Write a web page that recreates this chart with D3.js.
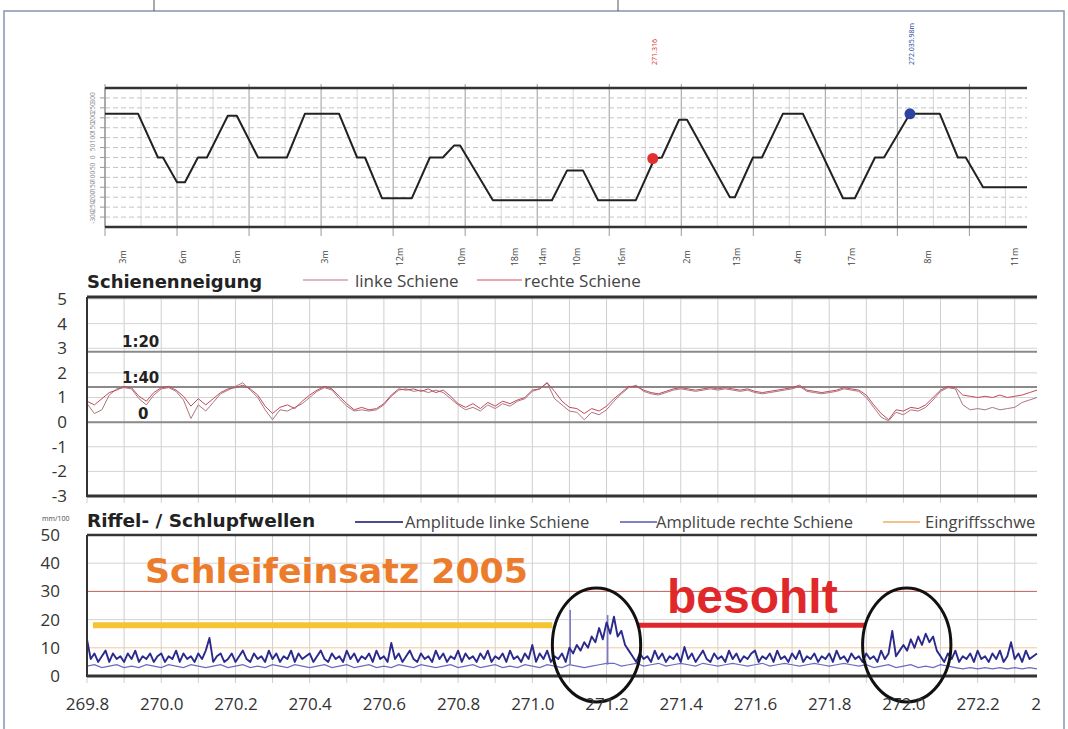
<!DOCTYPE html>
<html><head><meta charset="utf-8">
<script src="https://cdn.jsdelivr.net/npm/d3@7"></script>
<style>body{margin:0;background:#fff}svg{display:block}</style>
</head><body>
<svg id="c" width="1068" height="729"></svg>
<script>
// ---------------- DATA ----------------
const kmDomain = [269.8, 272.36];

// top panel: track geometry profile (km, value)
const profileKm = [269.800,269.892,269.947,269.961,270.000,270.022,270.058,270.083,270.141,270.166,270.225,270.305,270.355,270.450,270.500,270.522,270.569,270.652,270.702,270.738,270.769,270.786,270.877,271.041,271.083,271.127,271.169,271.274,271.326,271.346,271.394,271.416,271.535,271.549,271.599,271.624,271.682,271.738,271.849,271.882,271.938,271.963,272.035,272.118,272.168,272.190,272.238,272.360];
const profileVal = [4.4,4.4,0,0,-2.5,-2.5,0,0,4.2,4.2,0,0,4.4,4.4,0,0,-4.1,-4.1,0,0,1.2,1.2,-4.3,-4.3,-1.3,-1.3,-4.3,-4.3,-0.1,0,3.8,3.8,-4.0,-4.0,0,0,4.4,4.4,-4.1,-4.1,0,0,4.4,4.4,0,0,-3.0,-3.0];
const topYTicks = [-6,-5,-4,-3,-2,-1,0,1,2,3,4,5,6];
const topYLabels = ["-300","-250","-200","-150","-100","-50","0","50","100","150","200","250","300"];
const topMarkKm = [269.850,270.017,270.166,270.411,270.619,270.791,270.938,271.016,271.110,271.235,271.416,271.555,271.724,271.874,272.085,272.326];
const topMarkLabels = ["3m","6m","5m","3m","12m","10m","18m","14m","10m","16m","2m","13m","4m","17m","8m","11m"];
const markerKm = [271.321, 272.035];
const markerVal = [-0.1, 4.4];
const markerLabels = ["271.316", "272.035.98m"];
const markerColors = ["#e03030", "#2c44a0"];

// middle panel: Schienenneigung, sampled every 0.02 km from 269.80
const neigungStart = 269.80, neigungStep = 0.02;
const neigungLinks = [0.75,0.35,0.5,1.1,1.35,1.4,1.35,0.95,0.7,1.1,
 1.35,1.4,1.25,0.9,0.15,0.7,0.45,0.8,1.15,1.3,
 1.45,1.6,1.3,1.0,0.5,0.1,0.5,0.45,0.6,0.75,
 1.0,1.25,1.4,1.3,0.95,0.65,0.45,0.5,0.45,0.5,
 0.7,1.05,1.3,1.35,1.25,1.3,1.2,1.3,1.2,0.95,
 0.7,0.5,0.6,0.45,0.7,0.55,0.75,0.65,0.85,0.95,
 1.25,1.35,1.6,0.95,0.7,0.45,0.4,0.1,0.4,0.3,
 0.5,0.85,1.15,1.4,1.5,1.25,1.15,1.1,1.2,1.3,
 1.35,1.3,1.25,1.3,1.35,1.3,1.35,1.3,1.25,1.3,
 1.2,1.15,1.2,1.25,1.3,1.35,1.45,1.25,1.2,1.15,
 1.2,1.25,1.35,1.3,1.25,1.0,0.6,0.2,0.05,0.4,
 0.3,0.5,0.45,0.6,0.9,1.25,1.4,1.35,0.7,0.5,
 0.55,0.5,0.6,0.5,0.55,0.6,0.8,0.9,1.0];
const neigungRechts = [0.85,0.7,0.95,1.2,1.3,1.45,1.4,1.05,0.85,1.2,
 1.4,1.45,1.3,1.05,0.65,0.95,0.7,0.95,1.2,1.35,
 1.4,1.5,1.35,1.1,0.65,0.35,0.6,0.7,0.55,0.85,
 1.1,1.3,1.45,1.35,1.05,0.75,0.5,0.6,0.5,0.55,
 0.75,1.1,1.35,1.3,1.35,1.25,1.35,1.2,1.3,1.05,
 0.75,0.6,0.75,0.55,0.8,0.65,0.85,0.75,0.9,1.0,
 1.3,1.35,1.6,1.25,0.85,0.6,0.55,0.35,0.55,0.45,
 0.65,0.95,1.2,1.45,1.45,1.3,1.2,1.15,1.25,1.35,
 1.4,1.35,1.3,1.35,1.4,1.35,1.4,1.35,1.3,1.35,
 1.25,1.2,1.25,1.3,1.35,1.4,1.5,1.3,1.25,1.2,
 1.25,1.3,1.4,1.35,1.3,1.1,0.7,0.35,0.1,0.5,
 0.45,0.6,0.55,0.7,1.0,1.3,1.45,1.4,1.1,1.05,
 1.0,1.05,1.0,1.1,1.0,1.05,1.1,1.2,1.3];
const neigungTicks = [-3,-2,-1,0,1,2,3,4,5];
const refLabels = ["1:20", "1:40", "0"];
const refValues = [2.86, 1.43, 0];

// bottom panel: Riffel amplitudes (mm/100)
const ampLinksStart = 269.80, ampLinksStep = 0.01;
const ampLinks = [13,6,8,5,7,9,5,8,6,7,
 5,8,6,9,5,7,6,8,5,7,
 8,5,7,6,9,5,8,6,7,5,
 8,6,9,13.5,5,7,8,5,6,8,
 5,7,9,6,5,8,6,7,5,9,
 6,8,5,7,6,9,5,8,6,7,
 8,5,7,9,6,5,8,6,7,5,
 9,6,8,5,7,6,8,5,9,6,
 7,5,11.7,6,8,5,7,9,6,5,
 8,6,7,5,9,6,8,5,7,6,
 9,5,8,6,7,5,8,6,9,5,
 7,6,8,5,9,6,7,5,8,6,
 11,5,8,6,9,5,7,6,8,5,
 10,8,11,9,12,10,14,12,17,13,
 19,15,21,14,16,11,9,7,5,8,
 6,7,5,9,6,8,5,7,6,8,
 5,10.3,6,8,5,7,9,6,5,8,
 6,7,5,9,6,8,5,7,6,8,
 9,5,7,6,8,5,9,6,7,5,
 8,6,9,5,7,6,8,5,7,6,
 8,5,9,6,7,5,8,6,7,5,
 8,6,7,5,9,6,8,16,7,9,
 11,9,13,10,14,11,15,12,14,9,
 7,5,8,6,9,5,7,6,8,5,
 9,6,7,5,8,6,9,5,7,12,
 6,8,5,9,6,7,8];
const ampRechtsStart = 269.80, ampRechtsStep = 0.02;
const ampRechts = [3.5,4,3,3.5,4,3,3.5,3,4,3.5,
 3,4,3.5,3,4,3.5,3,3.5,4,3,
 3.5,4,3,3.5,3,4,3.5,3,4,3.5,
 3,3.5,4,3,3.5,4,3,3.5,4,3,
 3.5,3,4,3.5,3,4,3.5,3,3.5,4,
 3,3.5,4,3,3.5,4,3,3.5,3,4,
 3.5,3,4,3.5,3,4,3.5,3,3.5,4,
 4.5,4.5,3.5,4,4.5,3.5,4,4.5,3.5,4,
 4.5,4,3.5,4.5,4,3.5,4,4.5,4,3.5,
 4,4.5,3.5,4,4.5,4,3.5,4,4.5,4,
 3.5,4,4.5,4,3.5,4,3,3.5,4,3,
 3.5,4,3,3.5,3,4,3.5,3,2.5,3,
 2.5,3,2.5,3,2.5,3,2.5,3,2.5];
// isolated narrow peaks of the right-rail amplitude
const ampSpikeKm = [271.102, 271.203];
const ampSpikeVal = [23.4, 21.6];
const ampTicks = [0,10,20,30,40,50];
const kmTicks = [269.8,270.0,270.2,270.4,270.6,270.8,271.0,271.2,271.4,271.6,271.8,272.0,272.2,272.4];
const kmTickLabels = ["269.8","270.0","270.2","270.4","270.6","270.8","271.0","271.2","271.4","271.6","271.8","272.0","272.2","2"];
const schleifKm = [269.816, 271.054], schleifVal = 18;
const besohltKm = [271.283, 271.898], besohltVal = 18;
const circleKm = [271.173, 272.009], circleVal = 11, circleRkm = 0.119, circleRval = 20.2;

// ---------------- DRAWING ----------------
const svg = d3.select("#c");
svg.append("rect").attr("width",1068).attr("height",729).attr("fill","#fff");

// outer frame
svg.append("path").attr("d","M4,729 V11 H1064 V729").attr("fill","none").attr("stroke","#8a92ae").attr("stroke-width",1.5);
[154,618].forEach(x=>svg.append("line").attr("x1",x).attr("x2",x).attr("y1",0).attr("y2",11).attr("stroke","#555").attr("stroke-width",1));

// ===== top panel =====
const xTop = d3.scaleLinear().domain(kmDomain).range([105,1027]);
const yTop = d3.scaleLinear().domain([-7,7]).range([227,88]);
const gT = svg.append("g");
const gridKm = d3.range(0,26).map(i=>269.8+i*0.1);
gridKm.forEach((k,i)=>{
  const major = i%2===0;
  gT.append("line").attr("x1",xTop(k)).attr("x2",xTop(k))
    .attr("y1",major?84:88).attr("y2",major?236:227)
    .attr("stroke",major?"#9a9a9a":"#d6d6d6").attr("stroke-width",1);
});
topYTicks.forEach(v=>{
  gT.append("line").attr("x1",105).attr("x2",1027).attr("y1",yTop(v)).attr("y2",yTop(v))
    .attr("stroke","#bdbdbd").attr("stroke-dasharray","5,3").attr("stroke-width",0.9);
  gT.append("line").attr("x1",100).attr("x2",105).attr("y1",yTop(v)).attr("y2",yTop(v)).attr("stroke","#999");
});
topYTicks.forEach((v,i)=>{
  gT.append("text").attr("transform",`translate(95,${yTop(v)}) rotate(-90)`)
    .attr("text-anchor","middle").attr("font-family","Open Sans").attr("font-size",6.5).attr("fill","#888")
    .text(topYLabels[i]);
});
gT.append("line").attr("x1",105).attr("x2",105).attr("y1",88).attr("y2",227).attr("stroke","#888");
gT.append("line").attr("x1",105).attr("x2",1027).attr("y1",88).attr("y2",88).attr("stroke","#333").attr("stroke-width",2.5);
gT.append("line").attr("x1",105).attr("x2",1027).attr("y1",227).attr("y2",227).attr("stroke","#333").attr("stroke-width",2.5);
const profile = profileKm.map((k,i)=>[k,profileVal[i]]);
gT.append("path").datum(profile).attr("fill","none").attr("stroke","#222").attr("stroke-width",2)
  .attr("stroke-linejoin","round")
  .attr("d",d3.line().x(d=>xTop(d[0])).y(d=>yTop(d[1])));
topMarkKm.forEach((k,i)=>{
  gT.append("text").attr("transform",`translate(${xTop(k)+3},257) rotate(-90)`)
    .attr("text-anchor","middle").attr("font-family","Open Sans").attr("font-size",9).attr("fill","#444")
    .text(topMarkLabels[i]);
});
markerKm.forEach((k,i)=>{
  gT.append("circle").attr("cx",xTop(k)).attr("cy",yTop(markerVal[i])).attr("r",5.5).attr("fill",markerColors[i]);
  gT.append("text").attr("transform",`translate(${xTop(k)+4},${i===0?52:44}) rotate(-90)`)
    .attr("text-anchor","middle").attr("font-family","Open Sans").attr("font-size",7).attr("fill",markerColors[i])
    .text(markerLabels[i]);
});

// ===== middle panel =====
const xMain = d3.scaleLinear().domain(kmDomain).range([87,1037]);
const yN = d3.scaleLinear().domain([-3,5]).range([496,299]);
const gM = svg.append("g");
gridKm.forEach(k=>{
  gM.append("line").attr("x1",xMain(k)).attr("x2",xMain(k)).attr("y1",297).attr("y2",503)
    .attr("stroke","#cfcfcf").attr("stroke-width",1);
});
neigungTicks.forEach(v=>{
  gM.append("line").attr("x1",87).attr("x2",1037).attr("y1",yN(v)).attr("y2",yN(v))
    .attr("stroke","#d4d4d4").attr("stroke-width",1);
});
refValues.forEach(v=>{
  gM.append("line").attr("x1",87).attr("x2",1037).attr("y1",yN(v)).attr("y2",yN(v))
    .attr("stroke","#8a8a8a").attr("stroke-width",2);
});
const lineN = d3.line().x((d,i)=>xMain(neigungStart+i*neigungStep)).y(d=>yN(d));
gM.append("path").datum(neigungLinks).attr("fill","none").attr("stroke","#a87880").attr("stroke-width",1).attr("d",lineN);
gM.append("path").datum(neigungRechts).attr("fill","none").attr("stroke","#c24a5a").attr("stroke-width",1).attr("d",lineN);
gM.append("line").attr("x1",87).attr("x2",1037).attr("y1",297).attr("y2",297).attr("stroke","#333").attr("stroke-width",3);
gM.append("line").attr("x1",87).attr("x2",1037).attr("y1",496).attr("y2",496).attr("stroke","#333").attr("stroke-width",3);
gM.append("line").attr("x1",87).attr("x2",87).attr("y1",297).attr("y2",497).attr("stroke","#333").attr("stroke-width",2);
const refX = [122,122,138], refY = [347,383,419];
refLabels.forEach((t,i)=>{
  gM.append("text").attr("x",refX[i]).attr("y",refY[i]).attr("font-family","DejaVu Sans").attr("font-weight","bold")
    .attr("font-size",15).attr("fill","#222").text(t);
});
const axN = gM.append("g").attr("transform","translate(87,0)")
  .call(d3.axisLeft(yN).tickValues(neigungTicks).tickSize(0).tickPadding(20).tickFormat(d=>String(d)));
axN.select(".domain").remove();
axN.selectAll("text").attr("font-family","Open Sans").attr("font-size",17).attr("fill","#333");
gM.append("text").attr("x",87).attr("y",288).attr("font-family","DejaVu Sans").attr("font-weight","bold")
  .attr("font-size",18).attr("fill","#222").text("Schienenneigung");
const legN = [["linke Schiene","#d4a0aa",303,355],["rechte Schiene","#e08a98",477,524]];
legN.forEach(l=>{
  gM.append("line").attr("x1",l[2]).attr("x2",l[2]+45).attr("y1",280).attr("y2",280).attr("stroke",l[1]).attr("stroke-width",1.5);
  gM.append("text").attr("x",l[3]).attr("y",287).attr("font-family","Open Sans").attr("font-size",17).attr("fill","#444").text(l[0]);
});

// ===== bottom panel =====
const yA = d3.scaleLinear().domain([0,50]).range([676,535]);
const gB = svg.append("g");
gridKm.forEach(k=>{
  gB.append("line").attr("x1",xMain(k)).attr("x2",xMain(k)).attr("y1",535).attr("y2",683)
    .attr("stroke","#cfcfcf").attr("stroke-width",1);
});
[20,40].forEach(v=>gB.append("line").attr("x1",87).attr("x2",1037).attr("y1",yA(v)).attr("y2",yA(v)).attr("stroke","#d4d4d4"));
gB.append("line").attr("x1",87).attr("x2",1037).attr("y1",yA(10)).attr("y2",yA(10)).attr("stroke","#f3c99a").attr("stroke-width",1);
gB.append("line").attr("x1",87).attr("x2",1037).attr("y1",yA(30)).attr("y2",yA(30)).attr("stroke","#c06060").attr("stroke-width",1);
gB.append("line").attr("x1",xMain(schleifKm[0])).attr("x2",xMain(schleifKm[1])).attr("y1",yA(schleifVal)).attr("y2",yA(schleifVal))
  .attr("stroke","#f4c431").attr("stroke-width",6);
gB.append("line").attr("x1",xMain(besohltKm[0])).attr("x2",xMain(besohltKm[1])).attr("y1",yA(besohltVal)).attr("y2",yA(besohltVal))
  .attr("stroke","#e0282a").attr("stroke-width",5);
const lineL = d3.line().x((d,i)=>xMain(ampLinksStart+i*ampLinksStep)).y(d=>yA(d));
const lineR = d3.line().x((d,i)=>xMain(ampRechtsStart+i*ampRechtsStep)).y(d=>yA(d));
gB.append("path").datum(ampRechts).attr("fill","none").attr("stroke","#6a6ac0").attr("stroke-width",1.2).attr("d",lineR);
ampSpikeKm.forEach((k,i)=>{
  gB.append("line").attr("x1",xMain(k)).attr("x2",xMain(k)).attr("y1",yA(4)).attr("y2",yA(ampSpikeVal[i]))
    .attr("stroke","#7a7ac8").attr("stroke-width",1.6);
});
gB.append("path").datum(ampLinks).attr("fill","none").attr("stroke","#2a2a8c").attr("stroke-width",1.9)
  .attr("stroke-linejoin","round").attr("d",lineL);
gB.append("line").attr("x1",87).attr("x2",1037).attr("y1",535).attr("y2",535).attr("stroke","#333").attr("stroke-width",2.5);
gB.append("line").attr("x1",87).attr("x2",1037).attr("y1",676).attr("y2",676).attr("stroke","#333").attr("stroke-width",3);
gB.append("line").attr("x1",87).attr("x2",87).attr("y1",535).attr("y2",677).attr("stroke","#333").attr("stroke-width",2);
circleKm.forEach(k=>{
  const cx = xMain(k), rx = xMain(k+circleRkm)-cx, cy = yA(circleVal), ry = yA(0)-yA(circleRval);
  gB.append("ellipse").attr("cx",cx).attr("cy",cy).attr("rx",rx).attr("ry",ry)
    .attr("fill","none").attr("stroke","#111").attr("stroke-width",3);
});
gB.append("text").attr("x",145).attr("y",583).attr("font-family","DejaVu Sans").attr("font-weight","bold")
  .attr("font-size",33).attr("fill","#ec7c2c").attr("textLength",383).attr("lengthAdjust","spacingAndGlyphs").text("Schleifeinsatz 2005");
gB.append("text").attr("x",667).attr("y",613).attr("font-family","Liberation Sans").attr("font-weight","bold")
  .attr("font-size",48).attr("fill","#e0282a").text("besohlt");
const axA = gB.append("g").attr("transform","translate(87,0)")
  .call(d3.axisLeft(yA).tickValues(ampTicks).tickSize(0).tickPadding(27).tickFormat(d=>String(d)));
axA.select(".domain").remove();
axA.selectAll("text").attr("font-family","Open Sans").attr("font-size",17).attr("fill","#333");
const axK = gB.append("g").attr("transform","translate(0,676)")
  .call(d3.axisBottom(xMain).tickValues(kmTicks).tickSize(0).tickPadding(22).tickFormat((d,i)=>kmTickLabels[i]));
axK.select(".domain").remove();
axK.selectAll("text").attr("font-family","Open Sans").attr("font-size",17).attr("fill","#333");
axK.selectAll(".tick").filter((d,i)=>i===kmTicks.length-1).select("text").attr("x",-21).attr("text-anchor","start");
gB.append("text").attr("x",87).attr("y",527).attr("font-family","DejaVu Sans").attr("font-weight","bold")
  .attr("font-size",18.5).attr("fill","#222").text("Riffel- / Schlupfwellen");
gB.append("text").attr("x",42).attr("y",521).attr("font-family","Open Sans").attr("font-size",7).attr("fill","#444").text("mm/100");
const legA = [["Amplitude linke Schiene","#4a4a92",355,405,48],["Amplitude rechte Schiene","#8080c4",620,656,37],["Eingriffsschwe","#f0c488",883,925,37]];
legA.forEach(l=>{
  gB.append("line").attr("x1",l[2]).attr("x2",l[2]+l[4]).attr("y1",522).attr("y2",522).attr("stroke",l[1]).attr("stroke-width",2);
  gB.append("text").attr("x",l[3]).attr("y",528).attr("font-family","Open Sans").attr("font-size",16.5).attr("fill","#444").text(l[0]);
});
</script>
</body></html>
